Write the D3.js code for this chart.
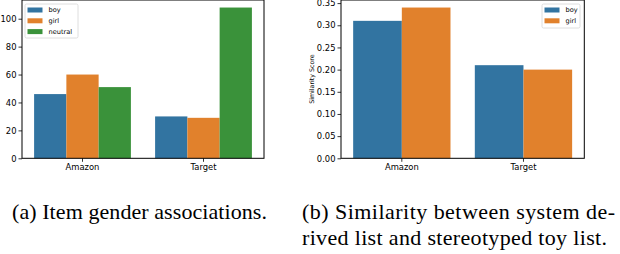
<!DOCTYPE html>
<html>
<head>
<meta charset="utf-8">
<script src="https://cdn.jsdelivr.net/npm/d3@7"></script>
<style>
  body { margin: 0; background: #fff; }
  svg { display: block; }
  .tick text { font-family: "DejaVu Sans", sans-serif; }
</style>
</head>
<body>
<svg id="chart" width="620" height="254"></svg>
<script>
// ************************************
// Data
// ************************************
let stores = ["Amazon", "Target"];

// (a) item gender associations
let genderKeys = ["boy", "girl", "neutral"];
let boyCounts = [46, 30];
let girlCounts = [60, 29];
let neutralCounts = [51, 108];
let countTicks = [0, 20, 40, 60, 80, 100];

// (b) similarity score
let simKeys = ["boy", "girl"];
let boySim = [0.31, 0.21];
let girlSim = [0.34, 0.20];
let simTicks = [0, 0.05, 0.10, 0.15, 0.20, 0.25, 0.30, 0.35];

let colors = { boy: "#3274a1", girl: "#e1812c", neutral: "#3a923a" };

let svg = d3.select("#chart");

// ************************************
// Execute functions
// ************************************
drawPanel({
  left: 22, right: 264, top: 0, bottom: 158.3,
  keys: genderKeys,
  series: [boyCounts, girlCounts, neutralCounts],
  ticks: countTicks,
  fmt: d3.format("d"),
  legend: { x: 25, y: 4, w: 53, h: 34 }
});

drawPanel({
  left: 341, right: 584.3, top: 0, bottom: 158.3,
  keys: simKeys,
  series: [boySim, girlSim],
  ticks: simTicks,
  fmt: d3.format(".2f"),
  ylabel: "Similarity Score",
  legend: { x: 542, y: 4, w: 38, h: 24 }
});

drawCaptions();

// ************************************
// Function definitions
// ************************************

// Draw one seaborn-style grouped bar panel
function drawPanel(p) {
  let rows = stores.map(function(s, i) {
    let row = { store: s };
    p.keys.forEach(function(k, j) { row[k] = p.series[j][i]; });
    return row;
  });
  let maxVal = d3.max(p.series, function(s) { return d3.max(s); });

  let x = d3.scaleBand()
    .domain(stores)
    .range([p.left, p.right])
    .paddingInner(0.2)
    .paddingOuter(0.1);

  let xInner = d3.scaleBand()
    .domain(p.keys)
    .range([0, x.bandwidth()]);

  let y = d3.scaleLinear()
    .domain([0, maxVal * 1.05])
    .range([p.bottom, p.top]);

  let g = svg.append("g");

  g.selectAll(".group")
    .data(rows)
    .enter()
    .append("g")
    .attr("transform", function(d) { return "translate(" + x(d.store) + ",0)"; })
    .selectAll("rect")
    .data(function(d) {
      return p.keys.map(function(k) { return { key: k, value: d[k] }; });
    })
    .enter()
    .append("rect")
    .attr("x", function(d) { return xInner(d.key); })
    .attr("width", xInner.bandwidth())
    .attr("y", function(d) { return y(d.value); })
    .attr("height", function(d) { return y(0) - y(d.value); })
    .attr("fill", function(d) { return colors[d.key]; });

  // axes
  let xAxis = d3.axisBottom(x).tickSize(3.5).tickPadding(2);
  g.append("g")
    .attr("transform", "translate(0," + p.bottom + ")")
    .call(xAxis)
    .call(function(a) {
      a.select(".domain").remove();
      a.selectAll("text").attr("font-size", "8.4px").attr("fill", "#000");
      a.selectAll("line").attr("stroke", "#000").attr("stroke-width", 0.8);
    });

  let yAxis = d3.axisLeft(y).tickValues(p.ticks).tickFormat(p.fmt).tickSize(3.5).tickPadding(2);
  g.append("g")
    .attr("transform", "translate(" + p.left + ",0)")
    .call(yAxis)
    .call(function(a) {
      a.select(".domain").remove();
      a.selectAll("text").attr("font-size", "8.4px").attr("fill", "#000");
      a.selectAll("line").attr("stroke", "#000").attr("stroke-width", 0.8);
    });

  // frame
  g.append("rect")
    .attr("x", p.left)
    .attr("y", p.top)
    .attr("width", p.right - p.left)
    .attr("height", p.bottom - p.top)
    .attr("fill", "none")
    .attr("stroke", "#000")
    .attr("stroke-width", 1);

  if (p.ylabel) {
    g.append("text")
      .attr("transform", "translate(314," + ((p.top + p.bottom) / 2) + ") rotate(-90)")
      .attr("text-anchor", "middle")
      .attr("font-family", "DejaVu Sans, sans-serif")
      .attr("font-size", "6.3px")
      .text(p.ylabel);
  }

  // legend
  let L = p.legend;
  let lg = g.append("g");
  lg.append("rect")
    .attr("x", L.x).attr("y", L.y)
    .attr("width", L.w).attr("height", L.h)
    .attr("rx", 1.5)
    .attr("fill", "#fff")
    .attr("fill-opacity", 0.8)
    .attr("stroke", "#d6d6d6")
    .attr("stroke-width", 0.8);

  let item = lg.selectAll(".item")
    .data(p.keys)
    .enter()
    .append("g")
    .attr("transform", function(d, i) {
      return "translate(" + (L.x + 2.5) + "," + (L.y + 6 + i * 10.8) + ")";
    });
  item.append("rect")
    .attr("x", 0).attr("y", -2.5)
    .attr("width", 15).attr("height", 5)
    .attr("fill", function(d) { return colors[d]; });
  item.append("text")
    .attr("x", 21)
    .attr("y", 2.3)
    .attr("font-family", "DejaVu Sans, sans-serif")
    .attr("font-size", "6.6px")
    .text(function(d) { return d; });
}

// Sub-figure captions in serif type, stretched to the widths seen in the paper
function drawCaptions() {
  let cap = svg.append("g")
    .attr("font-family", "Liberation Serif, serif")
    .attr("font-size", "22px")
    .attr("fill", "#000");

  cap.append("text")
    .attr("x", 12)
    .attr("y", 219)
    .attr("textLength", 255)
    .attr("lengthAdjust", "spacing")
    .text("(a) Item gender associations.");

  cap.append("text")
    .attr("x", 302)
    .attr("y", 219)
    .attr("textLength", 313)
    .attr("lengthAdjust", "spacing")
    .text("(b) Similarity between system de-");

  cap.append("text")
    .attr("x", 302)
    .attr("y", 245)
    .attr("textLength", 305)
    .attr("lengthAdjust", "spacing")
    .text("rived list and stereotyped toy list.");
}
</script>
</body>
</html>
